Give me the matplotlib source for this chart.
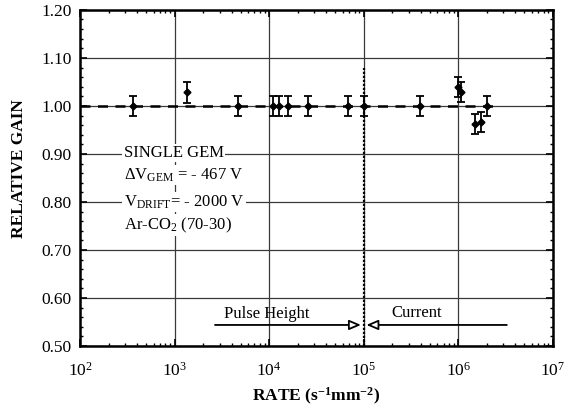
import numpy as np
import matplotlib.pyplot as plt
from matplotlib.ticker import LogLocator, MultipleLocator, FormatStrFormatter

plt.rcParams['font.family'] = ['Liberation Serif', 'DejaVu Serif']
plt.rcParams['mathtext.fontset'] = 'custom'
plt.rcParams['mathtext.rm'] = 'Liberation Serif'
plt.rcParams['mathtext.it'] = 'Liberation Serif:italic'
plt.rcParams['mathtext.bf'] = 'Liberation Serif:bold'

# data
rate = [365, 1350, 4650, 1.1e4, 1.27e4, 1.6e4, 2.6e4, 6.9e4, 1.0e5,
        3.96e5, 1.0e6, 1.08e6, 1.5e6, 1.74e6, 2.0e6]
gain = [1.00, 1.028, 1.00, 1.00, 1.00, 1.00, 1.00, 1.00, 1.00,
        1.00, 1.040, 1.029, 0.962, 0.967, 1.00]
gain_err = [0.021, 0.021, 0.021, 0.021, 0.021, 0.021, 0.021, 0.021, 0.021,
            0.021, 0.021, 0.021, 0.021, 0.021, 0.021]

ref_x = [100, 2.8e6]
ref_y = [1.0, 1.0]
split_rate = 1e5
pulse_start = 2.5e3
current_end = 3.5e6
arrow_y = 0.544

fig = plt.figure(figsize=(5.64, 4.12), dpi=100)
ax = fig.add_axes([0.142, 0.160, 0.838, 0.816])

ax.set_xscale('log')
ax.set_xlim(1e2, 1e7)
ax.set_ylim(0.5, 1.2)

ax.grid(True, which='major', color='#3a3a3a', lw=0.9)
ax.set_axisbelow(True)

ax.plot(ref_x, ref_y, color='black', lw=1.8, ls=(0, (4, 3)), zorder=3)
ax.plot([split_rate, split_rate], [0.5, 1.08], color='black', lw=1.6, ls=(0, (1, 0.8)), zorder=3)

ax.errorbar(rate, gain, yerr=gain_err, fmt='D', ms=3.5, color='black',
            ecolor='black', elinewidth=1.3, capsize=2.8, capthick=1.3, zorder=4)

# range arrows
ax.annotate('', xy=(split_rate, arrow_y), xytext=(pulse_start, arrow_y),
            arrowprops=dict(arrowstyle='-|>,head_length=0.7,head_width=0.3',
                            color='black', lw=1.3, fc='white'))
ax.annotate('', xy=(split_rate, arrow_y), xytext=(current_end, arrow_y),
            arrowprops=dict(arrowstyle='-|>,head_length=0.7,head_width=0.3',
                            color='black', lw=1.3, fc='white'))
ax.text(9.5e3, 0.566, 'Pulse Height', ha='center', va='center', fontsize=12)
ax.text(3.6e5, 0.568, 'Current', ha='center', va='center', fontsize=12)

# info text
bg = dict(facecolor='white', edgecolor='none', pad=1)
ax.text(290, 0.902, 'SINGLE GEM', fontsize=12, va='center', bbox=bg)
ax.text(290, 0.856, r'$\Delta$V$_{\mathrm{GEM}}$ = - 467 V', fontsize=12, va='center', bbox=bg)
ax.text(290, 0.800, r'V$_{\mathrm{DRIFT}}$= - 2000 V', fontsize=12, va='center', bbox=bg)
ax.text(290, 0.752, r'Ar-CO$_2$ (70-30)', fontsize=12, va='center', bbox=bg)

ax.xaxis.set_major_locator(LogLocator(base=10, numticks=10))
ax.xaxis.set_minor_locator(LogLocator(base=10, subs=np.arange(2, 10), numticks=20))
ax.yaxis.set_major_locator(MultipleLocator(0.1))
ax.yaxis.set_minor_locator(MultipleLocator(0.02))
ax.yaxis.set_major_formatter(FormatStrFormatter('%.2f'))
ax.tick_params(which='both', direction='in', top=True, right=True, labelsize=12.5)
ax.tick_params(which='major', length=5, width=1.2, pad=6)
ax.tick_params(axis='x', which='major', pad=11)
ax.tick_params(which='minor', length=2.5, width=1)
for s in ax.spines.values():
    s.set_linewidth(1.8)

ax.set_xlabel(r'RATE (s$^{\mathbf{-1}}$mm$^{\mathbf{-2}}$)', fontsize=12.5, fontweight='bold', labelpad=5)
ax.set_ylabel('RELATIVE GAIN', fontsize=12.5, fontweight='bold')
ax.yaxis.set_label_coords(-0.112, 0.527)

fig.savefig('out.png', dpi=100)
